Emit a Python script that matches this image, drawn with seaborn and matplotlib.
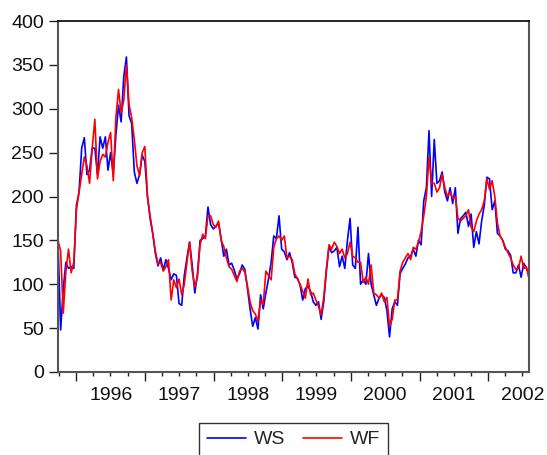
import numpy as np
import pandas as pd
import matplotlib
matplotlib.use("Agg")
import matplotlib.pyplot as plt
import matplotlib.dates as mdates
import seaborn as sns

start_date = "1995-09-26"
freq = "14D"

ws = [150, 48, 95, 125, 118, 120, 118, 190, 205, 255,
      267, 225, 230, 255, 255, 225, 268, 255, 268, 230,
      250, 225, 270, 304, 285, 337, 359, 292, 283, 228,
      215, 225, 247, 240, 200, 175, 158, 135, 121, 130,
      116, 128, 118, 105, 112, 110, 78, 76, 110, 130,
      148, 122, 90, 112, 150, 152, 155, 188, 168, 163,
      166, 170, 152, 132, 140, 122, 124, 116, 106, 112,
      122, 117, 95, 72, 52, 62, 49, 88, 72, 90,
      106, 125, 155, 152, 178, 140, 137, 128, 136, 125,
      108, 107, 99, 82, 95, 98, 92, 80, 76, 80,
      60, 80, 115, 143, 136, 138, 142, 120, 132, 118,
      150, 175, 122, 118, 165, 100, 105, 100, 135, 100,
      88, 76, 84, 88, 85, 70, 40, 72, 80, 76,
      112, 118, 123, 130, 132, 140, 132, 150, 145, 195,
      210, 275, 200, 265, 215, 218, 228, 205, 195, 210,
      192, 210, 158, 175, 178, 182, 166, 180, 142, 160,
      146, 172, 190, 222, 220, 185, 195, 158, 155, 150,
      140, 138, 133, 113, 113, 122, 108, 124, 118, 112]

wf = [150, 138, 67, 115, 140, 113, 125, 185, 205, 225,
      245, 235, 215, 255, 288, 220, 240, 248, 245, 262,
      273, 218, 290, 322, 295, 310, 350, 305, 290, 265,
      235, 224, 250, 257, 200, 178, 158, 138, 123, 125,
      115, 120, 128, 82, 105, 96, 106, 88, 100, 125,
      148, 115, 97, 108, 145, 157, 152, 178, 178, 168,
      165, 172, 150, 143, 130, 120, 117, 110, 103, 115,
      118, 114, 98, 80, 70, 66, 58, 82, 77, 115,
      110, 105, 142, 152, 155, 150, 155, 130, 132, 128,
      112, 106, 100, 92, 84, 106, 88, 90, 82, 75,
      65, 85, 118, 145, 140, 148, 143, 135, 140, 130,
      135, 148, 132, 130, 125, 125, 102, 108, 100, 122,
      90, 88, 84, 90, 80, 85, 52, 60, 82, 82,
      115, 125, 130, 135, 128, 142, 140, 148, 160, 178,
      200, 245, 215, 215, 205, 210, 225, 210, 200, 205,
      198, 200, 175, 172, 175, 178, 185, 165, 160, 172,
      180, 185, 195, 220, 208, 218, 200, 170, 155, 150,
      142, 136, 130, 122, 117, 118, 132, 118, 120, 106]

series_names = ["WS", "WF"]
series_colors = ["#0000FF", "#FF0000"]
year_labels = ["1996", "1997", "1998", "1999", "2000", "2001", "2002"]
y_ticks = [0, 50, 100, 150, 200, 250, 300, 350, 400]

dates = pd.date_range(start_date, periods=len(ws), freq=freq)
df = pd.DataFrame({"date": dates, "WS": ws, "WF": wf})
long = df.melt(id_vars="date", value_vars=series_names, var_name="series", value_name="value")

sns.set_style("white")
plt.rcParams["font.family"] = ["Liberation Sans", "DejaVu Sans"]

fig = plt.figure(figsize=(5.47, 4.55), dpi=100)
ax = fig.add_axes([58 / 547, 1 - 372 / 455, (529 - 58) / 547, (372 - 21) / 455])

sns.lineplot(data=long, x="date", y="value", hue="series", hue_order=series_names,
             palette=dict(zip(series_names, series_colors)), linewidth=1.2, ax=ax,
             legend=False, estimator=None)

ax.set_xlim(dates[0], dates[-1])
ax.set_ylim(0, 400)
ax.set_yticks(y_ticks)
ax.set_xlabel("")
ax.set_ylabel("")

# x ticks: years (long), quarters (short)
ax.xaxis.set_major_locator(mdates.YearLocator())
ax.xaxis.set_minor_locator(mdates.MonthLocator(bymonth=[4, 7, 10]))
ax.tick_params(axis="x", which="major", length=6.5, width=1, color="#222222",
               bottom=True, labelbottom=False, direction="out")
ax.tick_params(axis="x", which="minor", length=3.2, width=1, color="#222222",
               bottom=True, direction="out")
ax.tick_params(axis="y", which="major", length=6.5, width=1, color="#222222",
               left=True, labelsize=14, pad=3.6, direction="out", labelcolor="#111111")

# year labels at mid-year
sec = ax.secondary_xaxis("bottom")
mids = [mdates.date2num(pd.Timestamp(f"{y}-07-02")) for y in year_labels]
sec.set_xticks(mids, labels=year_labels)
sec.tick_params(length=0, pad=10.5, labelsize=14, labelcolor="#111111")
sec.spines["bottom"].set_visible(False)

for side in ["left", "bottom", "right"]:
    ax.spines[side].set_color("#555555")
    ax.spines[side].set_linewidth(1.5)
ax.spines["top"].set_color("#000000")
ax.spines["top"].set_linewidth(1.2)

handles = [plt.Line2D([], [], color=c, lw=1.2) for c in series_colors]
fig.legend(handles, series_names, loc="upper center",
           bbox_to_anchor=((58 + 529) / 2 / 547, 1 - 423 / 455),
           borderaxespad=0.0,
           ncol=2, frameon=True, fancybox=False, edgecolor="#333333",
           fontsize=14, handlelength=2.0, handletextpad=0.4, columnspacing=0.9,
           borderpad=0.4, framealpha=1)

fig.savefig("out.png", dpi=100)
